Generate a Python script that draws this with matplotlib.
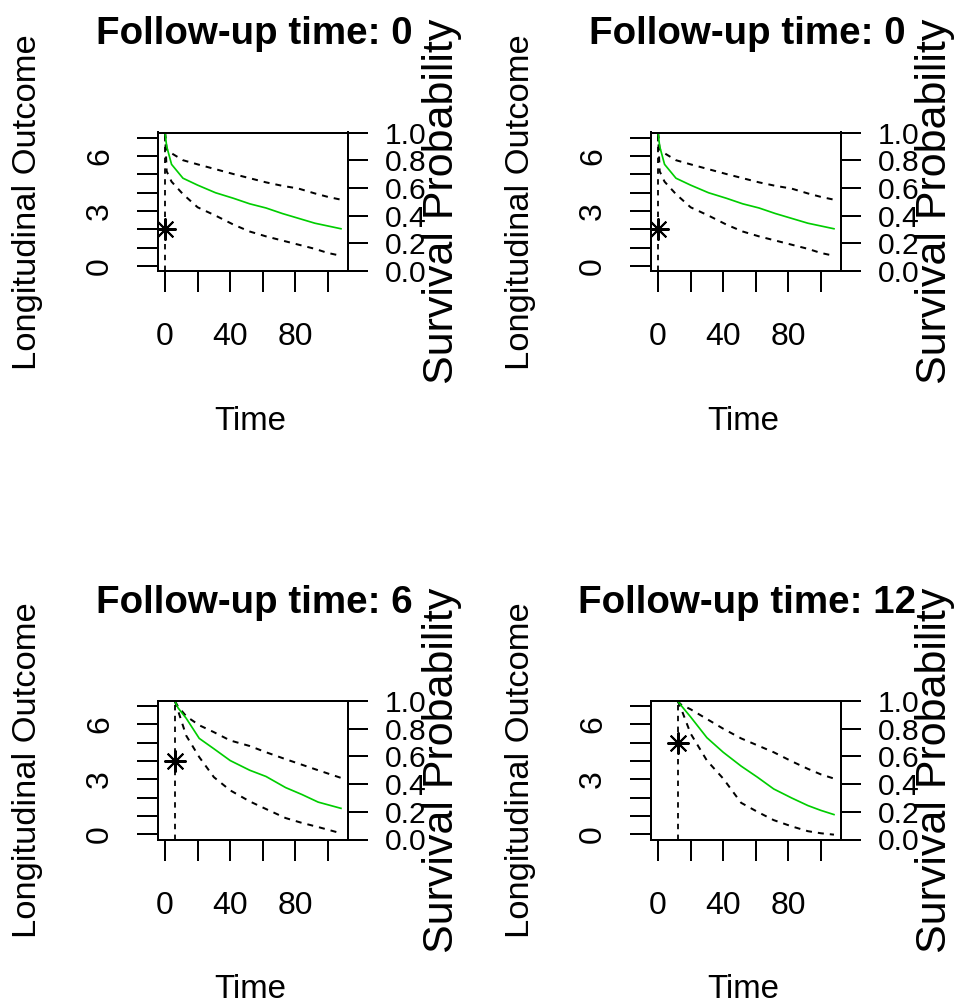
import matplotlib
matplotlib.use("Agg")
import matplotlib.pyplot as plt
from matplotlib import font_manager

plt.rcParams["font.family"] = ["Liberation Sans", "DejaVu Sans"]

W, H, DPI = 959, 1007, 100

# ---- data -------------------------------------------------------------
panel_titles = ["Follow-up time: 0", "Follow-up time: 0",
                "Follow-up time: 6", "Follow-up time: 12"]
last_times = [0, 0, 6, 12]
last_obs = [2, 2, 4, 5]

# subject with follow-up up to time 0
times_a = [0, 1, 4, 11, 20, 31, 42, 52, 62, 72, 82, 92, 100, 108]
surv_a = [1.00, 0.90, 0.77, 0.67, 0.62, 0.565, 0.525, 0.485, 0.455, 0.415, 0.38, 0.345, 0.325, 0.305]
upper_a = [1.00, 0.88, 0.85, 0.80, 0.77, 0.735, 0.70, 0.67, 0.64, 0.615, 0.595, 0.56, 0.535, 0.515]
lower_a = [1.00, 0.72, 0.645, 0.555, 0.46, 0.40, 0.335, 0.285, 0.25, 0.22, 0.19, 0.16, 0.13, 0.11]

# follow-up up to time 6
times_b = [6, 8, 13, 21, 30, 40, 52, 62, 74, 84, 94, 108]
surv_b = [1.00, 0.95, 0.875, 0.73, 0.655, 0.57, 0.50, 0.455, 0.375, 0.325, 0.27, 0.225]
upper_b = [1.00, 0.96, 0.89, 0.825, 0.775, 0.715, 0.675, 0.63, 0.58, 0.54, 0.50, 0.445]
lower_b = [1.00, 0.93, 0.75, 0.595, 0.45, 0.355, 0.275, 0.22, 0.155, 0.12, 0.09, 0.045]

# follow-up up to time 12
times_c = [12, 14, 20, 30, 40, 51, 61, 71, 82, 92, 100, 108]
surv_c = [1.00, 0.97, 0.885, 0.735, 0.63, 0.53, 0.45, 0.365, 0.30, 0.245, 0.21, 0.18]
upper_c = [1.00, 0.975, 0.94, 0.87, 0.80, 0.73, 0.68, 0.63, 0.565, 0.51, 0.47, 0.44]
lower_c = [1.00, 0.95, 0.765, 0.57, 0.44, 0.265, 0.20, 0.14, 0.095, 0.06, 0.045, 0.035]

panel_times = [times_a, times_a, times_b, times_c]
panel_surv = [surv_a, surv_a, surv_b, surv_c]
panel_upper = [upper_a, upper_a, upper_b, upper_c]
panel_lower = [lower_a, lower_a, lower_b, lower_c]

x_ticks = [0, 20, 40, 60, 80, 100]
x_tick_labels = ["0", "", "40", "", "80", ""]
long_ticks = [0, 1, 2, 3, 4, 5, 6, 7]
long_tick_labels = ["0", "", "", "3", "", "", "6", ""]
surv_ticks = [0.0, 0.2, 0.4, 0.6, 0.8, 1.0]
surv_tick_labels = ["0.0", "0.2", "0.4", "0.6", "0.8", "1.0"]

# ---- fonts --------------------------------------------------------------
PT = 72.0 / DPI  # points per pixel
installed = {f.name for f in font_manager.fontManager.ttflist}
if "Liberation Sans Narrow" in installed:
    narrow = ["Liberation Sans Narrow", "DejaVu Sans"]
    xtick_px, rtick_px, time_px = 35, 33, 37
else:
    narrow = ["Liberation Sans", "DejaVu Sans"]
    xtick_px, rtick_px, time_px = 32, 30, 33

# ---- layout (pixels) --------------------------------------------------
BOX_W, BOX_H = 190, 138.5
box_left = [158, 651, 158, 651]
box_top = [132.5, 132.5, 701, 701]

fig = plt.figure(figsize=(W / DPI, H / DPI), dpi=DPI)


def fx(x):
    return x / W


def fy(y):
    return 1 - y / H


dash = (0, (3, 3))
green = "#00CD00"

for i in range(4):
    L, T = box_left[i], box_top[i]
    ax = fig.add_axes([fx(L), fy(T + BOX_H), BOX_W / W, BOX_H / H])
    ax.set_xlim(-4.32, 112.32)
    ax.set_ylim(-0.28, 7.28)
    ax.set_xticks(x_ticks)
    ax.set_xticklabels(x_tick_labels, family=narrow, fontsize=xtick_px * PT)
    ax.set_yticks(long_ticks)
    ax.set_yticklabels(long_tick_labels, rotation=90, va="center",
                       fontsize=32 * PT)
    ax.tick_params(direction="out", length=21 * PT, width=2 * PT)
    ax.tick_params(axis="x", pad=30 * PT)
    ax.tick_params(axis="y", pad=22 * PT)
    for s in ax.spines.values():
        s.set_linewidth(2 * PT)

    t0 = last_times[i]
    ax.axvline(t0, color="black", lw=1.8 * PT, ls=dash)
    ax.plot([t0], [last_obs[i]], ls="none", marker=(8, 2, 0),
            ms=22 * PT, mew=2.0 * PT, color="black")

    ax2 = ax.twinx()
    ax2.set_ylim(0, 1)
    ax2.set_yticks(surv_ticks)
    ax2.set_yticklabels(surv_tick_labels, family=narrow, fontsize=rtick_px * PT)
    ax2.tick_params(direction="out", length=20 * PT, width=2 * PT,
                    pad=17 * PT)
    for s in ax2.spines.values():
        s.set_linewidth(2 * PT)

    ax2.plot(panel_times[i], panel_upper[i], color="black", lw=2.0 * PT, ls=dash)
    ax2.plot(panel_times[i], panel_lower[i], color="black", lw=2.0 * PT, ls=dash)
    ax2.plot(panel_times[i], panel_surv[i], color=green, lw=1.7 * PT)

    cx = L + BOX_W / 2
    cy = T + BOX_H / 2
    fig.text(fx(cx + 1), fy(T - 88), panel_titles[i], ha="center",
             va="baseline", fontsize=38.5 * PT, fontweight="bold")
    fig.text(fx(L - 130), fy(cy), "Longitudinal Outcome", rotation=90,
             ha="center", va="center", fontsize=34.5 * PT)
    fig.text(fx(L + BOX_W + 94), fy(cy), "Survival Probability", rotation=90,
             ha="center", va="center", fontsize=43 * PT)
    fig.text(fx(cx - 3), fy(T + BOX_H + 159), "Time", ha="center",
             va="baseline", family=narrow, fontsize=time_px * PT)

fig.savefig("out.png", dpi=DPI)
